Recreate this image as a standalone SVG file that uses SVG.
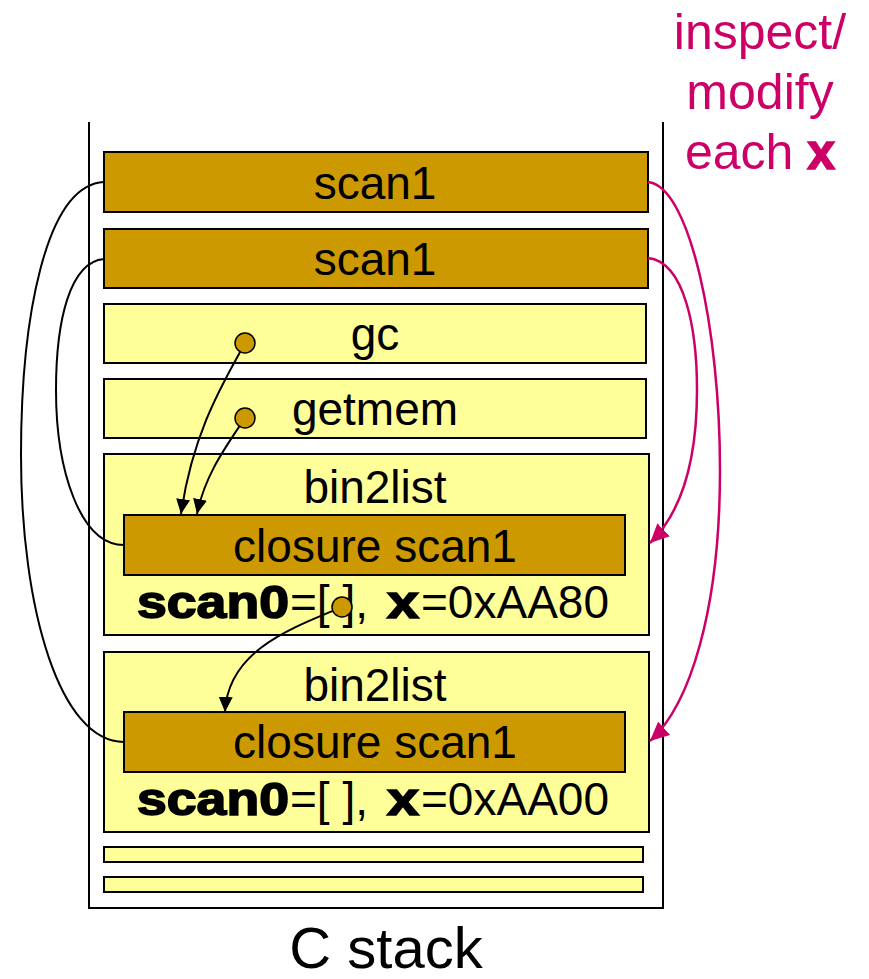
<svg xmlns="http://www.w3.org/2000/svg" width="869" height="979" viewBox="0 0 869 979">
<style>
.dark{fill:#CC9900;stroke:#000;stroke-width:2}
.light{fill:#FFFF99;stroke:#000;stroke-width:2}
.t{font-family:"Liberation Sans",Arial,sans-serif;font-size:46px;fill:#000;text-anchor:middle}
.s{font-family:"Liberation Sans",Arial,sans-serif;font-size:46px;fill:#000}
.b{font-weight:bold;stroke:#000;stroke-width:1.6}
.m{font-family:"Liberation Sans",Arial,sans-serif;font-size:50px;fill:#CC0066;text-anchor:middle}
.dot{fill:#CC9900;stroke:#000;stroke-width:1.5}
.blk{fill:none;stroke:#000;stroke-width:2}
.mag{fill:none;stroke:#CC0066;stroke-width:2.5}
</style>
<defs>
<marker id="ab" markerUnits="userSpaceOnUse" markerWidth="16" markerHeight="14" refX="15" refY="7" orient="auto">
<path d="M0,0 L15,7 L0,14 z" fill="#000"/>
</marker>
<marker id="am" markerUnits="userSpaceOnUse" markerWidth="20" markerHeight="18" refX="19" refY="9" orient="auto">
<path d="M0,0 L19,9 L0,18 z" fill="#CC0066"/>
</marker>
</defs>
<rect width="869" height="979" fill="#fff"/>
<g id="stack">
<path d="M89,122 L89,908 L663,908 L663,122" fill="none" stroke="#000" stroke-width="2"/>
<text class="t" x="386" y="968" style="font-size:58px">C stack</text>
</g>
<g id="scan1_a">
<rect class="dark" x="104" y="152" width="544" height="60"/>
<text class="t" x="375" y="199">scan1</text>
</g>
<g id="scan1_b">
<rect class="dark" x="104" y="229" width="544" height="59"/>
<text class="t" x="375" y="275">scan1</text>
</g>
<g id="gc">
<rect class="light" x="104" y="304" width="542" height="59"/>
<text class="t" x="375" y="350">gc</text>
</g>
<g id="getmem">
<rect class="light" x="104" y="379" width="542" height="59"/>
<text class="t" x="375" y="425">getmem</text>
</g>
<g id="bin2list_a">
<rect class="light" x="104" y="454" width="545" height="181"/>
<text class="t" x="375" y="503">bin2list</text>
<rect class="dark" x="124" y="515" width="501" height="60"/>
<text class="t" x="375" y="562">closure scan1</text>
<text class="s b" x="137" y="618" textLength="152" lengthAdjust="spacingAndGlyphs">scan0</text>
<text class="s" x="290" y="618">=[ ],</text>
<text class="s b" x="387" y="618" textLength="32" lengthAdjust="spacingAndGlyphs">x</text>
<text class="s" x="421" y="618">=0xAA80</text>
</g>
<g id="bin2list_b">
<rect class="light" x="104" y="652" width="545" height="180"/>
<text class="t" x="375" y="701">bin2list</text>
<rect class="dark" x="124" y="712" width="501" height="60"/>
<text class="t" x="375" y="758">closure scan1</text>
<text class="s b" x="137" y="815" textLength="152" lengthAdjust="spacingAndGlyphs">scan0</text>
<text class="s" x="290" y="815">=[ ],</text>
<text class="s b" x="387" y="815" textLength="32" lengthAdjust="spacingAndGlyphs">x</text>
<text class="s" x="421" y="815">=0xAA00</text>
</g>
<g id="bar1">
<rect class="light" x="104" y="847" width="539" height="15"/>
</g>
<g id="bar2">
<rect class="light" x="104" y="877" width="539" height="15"/>
</g>
<g id="label">
<text class="m" x="760" y="49">inspect/</text>
<text class="m" x="760" y="109">modify</text>
<text class="m" x="760" y="169">each <tspan font-weight="bold" stroke="#CC0066" stroke-width="1.6">x</tspan></text>
</g>
<g id="connectors">
<path class="blk" d="M104,182 C45,185 21,320 21,455 C21,610 60,742 124,742"/>
<path class="blk" d="M104,259 C70,262 56,320 56,390 C56,470 80,545 124,545"/>
<path class="mag" marker-end="url(#am)" d="M648,182 C690,186 720,330 720,470 C720,610 690,705 650,741"/>
<path class="mag" marker-end="url(#am)" d="M648,258 C685,262 697,330 697,390 C697,460 682,512 650,543"/>
<path class="blk" marker-end="url(#ab)" d="M245,343 C225,380 193,430 181,514"/>
<path class="blk" marker-end="url(#ab)" d="M245,418 C225,448 205,475 197,514"/>
<path class="blk" marker-end="url(#ab)" d="M342,607 C292,628 228,650 225,712"/>
<circle class="dot" cx="245" cy="343" r="10"/>
<circle class="dot" cx="245" cy="418" r="10"/>
<circle class="dot" cx="342" cy="607" r="10"/>
</g>
</svg>
